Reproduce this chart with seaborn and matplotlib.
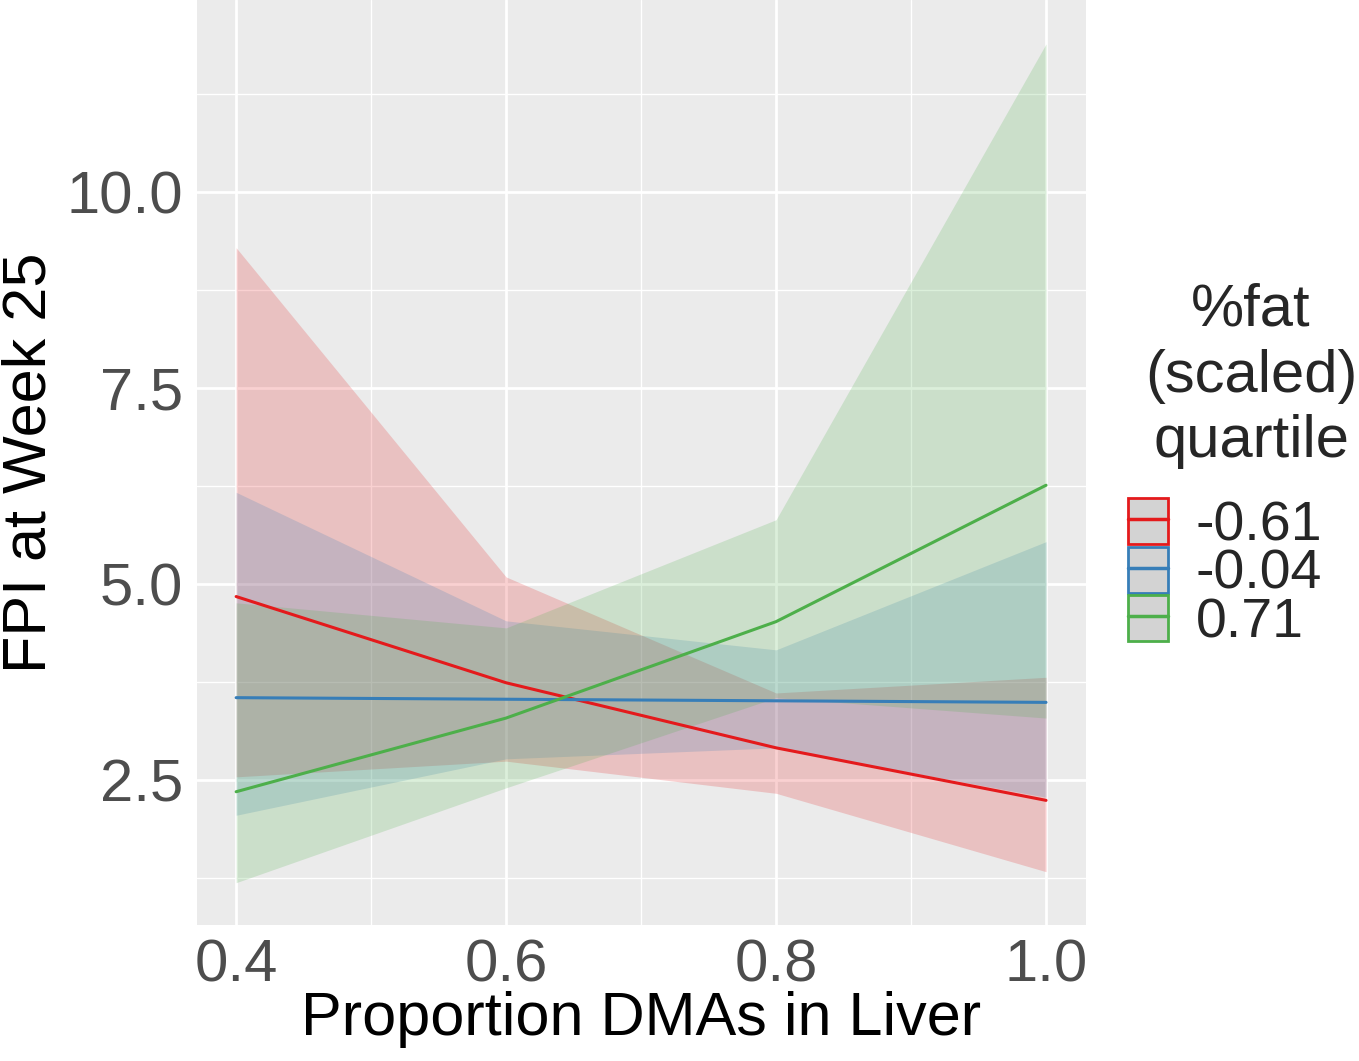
import matplotlib
matplotlib.use('Agg')

import matplotlib.pyplot as plt
import seaborn as sns
import numpy as np
import pandas as pd
from matplotlib.patches import Patch
from matplotlib.lines import Line2D
from matplotlib.legend_handler import HandlerTuple

# values
dmas = [0.4, 0.6, 0.8, 1.0]
groups = ['-0.61', '-0.04', '0.71']
fit_red = [4.84, 3.74, 2.91, 2.24]
lo_red = [2.54, 2.74, 2.33, 1.33]
hi_red = [9.29, 5.09, 3.61, 3.81]
fit_blue = [3.55, 3.53, 3.51, 3.49]
lo_blue = [2.05, 2.77, 2.91, 2.28]
hi_blue = [6.17, 4.53, 4.16, 5.54]
fit_green = [2.35, 3.29, 4.52, 6.26]
lo_green = [1.19, 2.40, 3.55, 3.29]
hi_green = [4.76, 4.44, 5.82, 11.89]

colors = ['#E41A1C', '#377EB8', '#4DAF4A']

df = pd.DataFrame({
    'x': dmas * 3,
    'fpi': fit_red + fit_blue + fit_green,
    'lo': lo_red + lo_blue + lo_green,
    'hi': hi_red + hi_blue + hi_green,
    'grp': [g for g in groups for _ in dmas],
})

sns.set_theme(style='darkgrid')
plt.rcParams['font.family'] = ['Liberation Sans', 'DejaVu Sans']

fig = plt.figure(figsize=(13.59, 10.61), dpi=100)
ax = fig.add_axes([197 / 1359, 136 / 1061, 889 / 1359, 925 / 1061])
ax.set_facecolor('#EBEBEB')

for g, c in zip(groups, colors):
    d = df[df['grp'] == g]
    ax.fill_between(d['x'], d['lo'], d['hi'], color=c, alpha=0.2, linewidth=0, zorder=2)

sns.lineplot(data=df, x='x', y='fpi', hue='grp', hue_order=groups, palette=colors,
             linewidth=2.2, legend=False, ax=ax, zorder=3)

ax.set_xlim(0.371, 1.0296)
ax.set_ylim(0.65, 12.45)
ax.set_xticks([0.4, 0.6, 0.8, 1.0])
ax.set_xticklabels(['0.4', '0.6', '0.8', '1.0'])
ax.set_yticks([2.5, 5.0, 7.5, 10.0])
ax.set_yticklabels(['2.5', '5.0', '7.5', '10.0'])
ax.set_xticks([0.5, 0.7, 0.9], minor=True)
ax.set_yticks([1.25, 3.75, 6.25, 8.75, 11.25], minor=True)
ax.grid(which='major', color='white', linewidth=2)
ax.grid(which='minor', color='white', linewidth=1)
ax.set_axisbelow(True)
for s in ax.spines.values():
    s.set_visible(False)
ax.tick_params(which='major', length=6, width=1.5, color='#333333',
               labelsize=43, labelcolor='#4D4D4D', pad=4)
ax.tick_params(which='minor', length=0)
ax.set_xlabel('Proportion DMAs in Liver', fontsize=44, color='black', labelpad=-2)
ax.set_ylabel('FPI at Week 25', fontsize=44, color='black', labelpad=6)

# legend title drawn as its own text, keys below it
fig.text(1251 / 1359, 1 - 376 / 1061, '%fat\n(scaled)\nquartile', fontsize=43,
         ha='center', va='center', multialignment='center', linespacing=1.25)

handles = [(Patch(facecolor='#D3D3D3', edgecolor=c, linewidth=2),
            Line2D([], [], color=c, linewidth=2.5)) for c in colors]
leg = fig.legend(handles, groups,
                 loc='upper left', bbox_to_anchor=(1128 / 1359, 1 - 498 / 1061),
                 frameon=False, fontsize=40, borderpad=0,
                 handler_map={tuple: HandlerTuple(ndivide=1, pad=0)},
                 handlelength=0.72, handleheight=0.9, labelspacing=-0.1,
                 handletextpad=0.5, borderaxespad=0)

fig.savefig('out.png', dpi=100)
